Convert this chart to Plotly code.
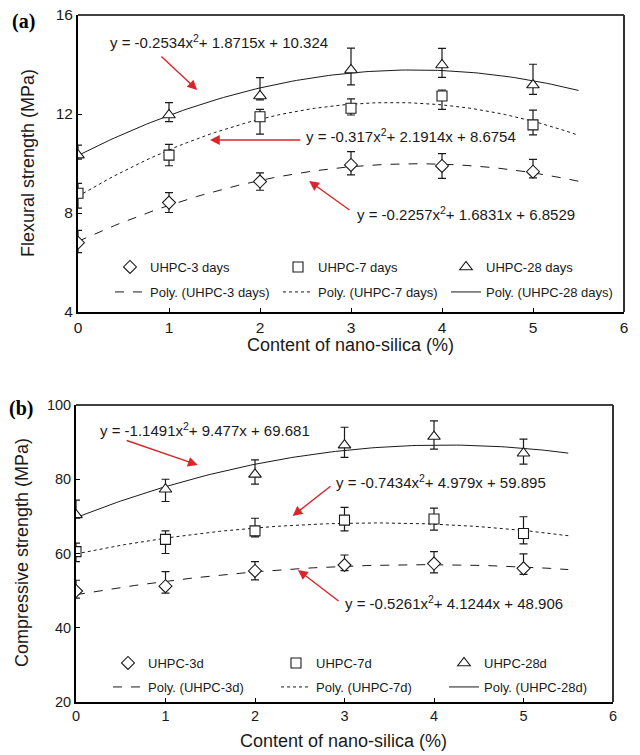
import numpy as np
import plotly.graph_objects as go

# ---------------- data ----------------
content = [0, 1, 2, 3, 4, 5]

# Panel (a) flexural strength (MPa)
flex_3d = [6.80, 8.42, 9.27, 9.94, 9.90, 9.67]
flex_3d_up = [0.50, 0.40, 0.35, 0.54, 0.50, 0.50]
flex_3d_dn = [0.40, 0.40, 0.35, 0.40, 0.50, 0.25]
flex_7d = [8.80, 10.34, 11.89, 12.23, 12.73, 11.56]
flex_7d_up = [0.40, 0.43, 0.30, 0.38, 0.24, 0.60]
flex_7d_dn = [0.60, 0.43, 0.70, 0.27, 0.54, 0.40]
flex_28d = [10.34, 11.96, 12.73, 13.78, 13.98, 13.17]
flex_28d_up = [0.40, 0.50, 0.74, 0.88, 0.67, 0.84]
flex_28d_dn = [0.16, 0.27, 0.16, 0.60, 0.50, 0.38]

# Panel (b) compressive strength (MPa)
comp_3d = [49.9, 51.2, 55.3, 56.9, 57.3, 56.0]
comp_3d_up = [2.9, 3.9, 2.5, 2.7, 3.2, 3.9]
comp_3d_dn = [1.9, 1.9, 2.4, 1.5, 2.5, 1.6]
comp_7d = [60.5, 63.8, 66.1, 69.0, 69.3, 65.4]
comp_7d_up = [2.3, 2.3, 3.4, 3.4, 2.9, 4.5]
comp_7d_dn = [2.7, 3.8, 1.6, 2.9, 3.0, 2.8]
comp_28d = [70.4, 77.3, 81.3, 89.2, 91.5, 87.0]
comp_28d_up = [4.0, 2.7, 3.9, 4.8, 4.2, 3.8]
comp_28d_dn = [0.9, 3.3, 2.6, 3.3, 3.4, 2.9]

# printed trendline coefficients (a2, a1, a0)
fit_flex_3d = [-0.2257, 1.6831, 6.8529]
fit_flex_7d = [-0.317, 2.1914, 8.6754]
fit_flex_28d = [-0.2534, 1.8715, 10.324]
fit_comp_3d = [-0.5261, 4.1244, 48.906]
fit_comp_7d = [-0.7434, 4.979, 59.895]
fit_comp_28d = [-1.1491, 9.477, 69.681]
fit_range = [0, 5.5]

x_ticks = [0, 1, 2, 3, 4, 5, 6]
flex_ticks = [4, 8, 12, 16]
comp_ticks = [20, 40, 60, 80, 100]

FONT = "Liberation Sans, Arial, sans-serif"
INK = "#1a1a1a"
RED = "#d8262a"

# page has an 8px body margin; figure is sized to fill the rest
OFF = 8
W, H = 640 - OFF, 755 - OFF


def px(x):
    return (x - OFF) / W


def py(y):
    return 1 - (y - OFF) / H


fig = go.Figure()
xf = np.linspace(fit_range[0], fit_range[1], 111)


def add_panel(xa, ya, legm, legl, names, lnames, ys, ups, dns, fits):
    symbols = ["diamond", "square", "triangle-up"]
    sizes = [10, 10, 11]
    dashes = ["dash", "dot", "solid"]
    for i in range(3):
        c = fits[i]
        fig.add_trace(go.Scatter(x=xf, y=np.polyval(c, xf), mode="lines",
                                 line=dict(color=INK, width=1, dash=dashes[i]),
                                 name=lnames[i], xaxis=xa, yaxis=ya, legend=legl))
    for i in range(3):
        fig.add_trace(go.Scatter(x=content, y=ys[i], mode="markers",
                                 marker=dict(symbol=symbols[i], size=sizes[i], color="white",
                                             line=dict(color=INK, width=1.1)),
                                 error_y=dict(type="data", symmetric=False, array=ups[i],
                                              arrayminus=dns[i], color=INK, thickness=1.2, width=4),
                                 name=names[i], xaxis=xa, yaxis=ya, legend=legm))


add_panel("x", "y", "legend", "legend2",
          ["UHPC-3 days", "UHPC-7 days", "UHPC-28 days"],
          ["Poly. (UHPC-3 days)", "Poly. (UHPC-7 days)", "Poly. (UHPC-28 days)"],
          [flex_3d, flex_7d, flex_28d], [flex_3d_up, flex_7d_up, flex_28d_up],
          [flex_3d_dn, flex_7d_dn, flex_28d_dn], [fit_flex_3d, fit_flex_7d, fit_flex_28d])
add_panel("x2", "y2", "legend3", "legend4",
          ["UHPC-3d", "UHPC-7d", "UHPC-28d"],
          ["Poly. (UHPC-3d)", "Poly. (UHPC-7d)", "Poly. (UHPC-28d)"],
          [comp_3d, comp_7d, comp_28d], [comp_3d_up, comp_7d_up, comp_28d_up],
          [comp_3d_dn, comp_7d_dn, comp_28d_dn], [fit_comp_3d, fit_comp_7d, fit_comp_28d])

ax_common = dict(showline=True, linecolor="black", linewidth=2, ticks="inside", ticklen=4,
                 tickcolor="black", tickwidth=1, showgrid=False, zeroline=False, automargin=False,
                 ticklabeloverflow="allow", mirror=False)
tick_a = dict(family=FONT, size=15.5, color=INK)
tick_b = dict(family=FONT, size=14.5, color=INK)

dom_a_x = [px(78), px(624)]
dom_a_y = [py(312), py(15)]
dom_b_x = [px(76), px(613)]
dom_b_y = [py(702), py(405)]

fig.update_layout(
    width=W, height=H, paper_bgcolor="white", plot_bgcolor="white",
    margin=dict(l=0, r=0, t=0, b=0), showlegend=True,
    xaxis=dict(ax_common, domain=dom_a_x, range=[0, 6], tickvals=x_ticks, anchor="y", tickfont=tick_a),
    yaxis=dict(ax_common, domain=dom_a_y, range=[4, 16], tickvals=flex_ticks, anchor="x", tickfont=tick_a),
    xaxis2=dict(ax_common, domain=dom_b_x, range=[0, 6], tickvals=x_ticks, anchor="y2", tickfont=tick_b),
    yaxis2=dict(ax_common, domain=dom_b_y, range=[20, 100], tickvals=comp_ticks, anchor="x2", tickfont=tick_b),
)

leg_common = dict(orientation="h", bgcolor="rgba(0,0,0,0)", xanchor="left", yanchor="middle",
                  entrywidth=123, entrywidthmode="pixels", font=dict(family=FONT, size=13, color=INK),
                  traceorder="normal")
fig.update_layout(
    legend=dict(leg_common, x=px(110), y=py(267)),
    legend2=dict(leg_common, x=px(110), y=py(292)),
    legend3=dict(leg_common, x=px(108), y=py(663)),
    legend4=dict(leg_common, x=px(108), y=py(687)),
)

# frame top/right lines
for (dx, dy) in [(dom_a_x, dom_a_y), (dom_b_x, dom_b_y)]:
    fig.add_shape(type="line", xref="paper", yref="paper", x0=dx[0], x1=dx[1], y0=dy[1], y1=dy[1],
                  line=dict(color="black", width=1.3))
    fig.add_shape(type="line", xref="paper", yref="paper", x0=dx[1], x1=dx[1], y0=dy[0], y1=dy[1],
                  line=dict(color="#333333", width=2))

title_font = dict(family=FONT, size=18, color=INK)
axis_titles = [
    (px(350), py(345), 0, "Content of nano-silica (%)"),
    (px(28), py(163), -90, "Flexural strength (MPa)"),
    (px(343), py(741), 0, "Content of nano-silica (%)"),
    (px(22), py(553), -90, "Compressive strength (MPa)"),
]
for x, y, ang, t in axis_titles:
    fig.add_annotation(xref="paper", yref="paper", x=x, y=y, text=t, textangle=ang,
                       showarrow=False, xanchor="center", yanchor="middle", font=title_font)


def eq_text(c):
    return "y = %sx<sup>2</sup>+ %sx + %s" % (c[0], c[1], c[2])


ann_font = dict(family=FONT, size=15, color=INK)
texts = [
    ("x", "y", 0.33, 14.91, eq_text(fit_flex_28d)),
    ("x", "y", 2.48, 11.15, eq_text(fit_flex_7d)),
    ("x", "y", 3.04, 8.00, eq_text(fit_flex_3d)),
    ("x2", "y2", 0.25, 93.27, eq_text(fit_comp_28d)),
    ("x2", "y2", 2.88, 79.26, eq_text(fit_comp_7d)),
    ("x2", "y2", 2.98, 46.67, eq_text(fit_comp_3d)),
]
for xr, yr, x, y, t in texts:
    fig.add_annotation(xref=xr, yref=yr, x=x, y=y, text=t, showarrow=False,
                       xanchor="left", yanchor="middle", font=ann_font)

arrows = [
    ("x", "y", 1.31, 12.97, 0.90, 14.38),
    ("x", "y", 1.45, 10.95, 2.46, 10.95),
    ("x", "y", 2.54, 9.29, 3.00, 8.08),
    ("x2", "y2", 1.36, 83.84, 0.55, 90.57),
    ("x2", "y2", 2.42, 70.10, 2.86, 78.45),
    ("x2", "y2", 2.48, 55.56, 2.95, 46.9),
]
for xr, yr, x, y, ax, ay in arrows:
    fig.add_annotation(xref=xr, yref=yr, x=x, y=y, axref=xr, ayref=yr, ax=ax, ay=ay,
                       text="", showarrow=True, arrowhead=2, arrowsize=1.4, arrowwidth=1.4,
                       arrowcolor=RED)

fig.add_annotation(xref="paper", yref="paper", x=px(10), y=py(8), text="<b>(a)</b>",
                   showarrow=False, xanchor="left", yanchor="top",
                   font=dict(family="Liberation Serif, Times New Roman, serif", size=20, color="black"))
fig.add_annotation(xref="paper", yref="paper", x=px(7), y=py(408), text="<b>(b)</b>",
                   showarrow=False, xanchor="left", yanchor="middle",
                   font=dict(family="Liberation Serif, Times New Roman, serif", size=20, color="black"))

fig.write_html("out.html")
